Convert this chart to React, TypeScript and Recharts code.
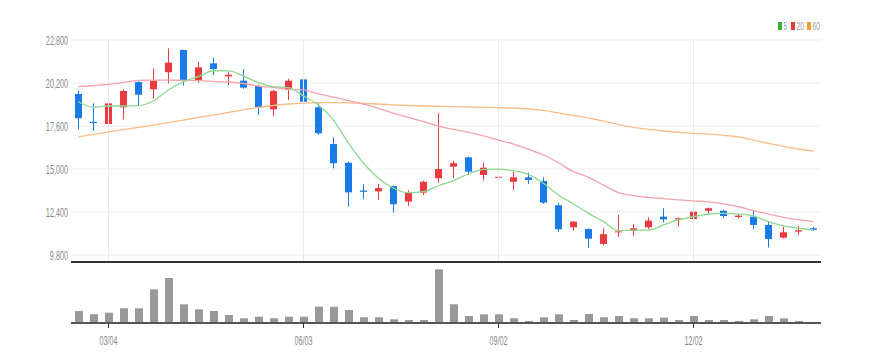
import React from 'react';
import { ComposedChart, Bar, Line, XAxis, YAxis, CartesianGrid, ReferenceLine } from 'recharts';

const dates = [
  '02/19', '02/26', '03/04', '03/11', '03/18', '03/25', '04/01', '04/08', '04/15', '04/22',
  '04/29', '05/06', '05/13', '05/20', '05/27', '06/03', '06/10', '06/17', '06/24', '07/01',
  '07/08', '07/15', '07/22', '07/29', '08/05', '08/12', '08/19', '08/26', '09/02', '09/09',
  '09/16', '09/23', '09/30', '10/07', '10/14', '10/21', '10/28', '11/04', '11/11', '11/18',
  '11/25', '12/02', '12/09', '12/16', '12/23', '12/30', '01/06', '01/13', '01/20', '01/27',
];

const opens = [
  19540, 17850, 17720, 18730, 20260, 19820, 20850, 22200, 20380, 21390,
  20600, 20340, 20020, 18610, 19780, 20420, 18730, 16510, 15380, 13700,
  13650, 13970, 13030, 13570, 14440, 15140, 15710, 14640, 14480, 14230,
  14500, 14280, 12810, 11480, 11380, 10470, 11170, 11270, 11480, 12120,
  11950, 11980, 12480, 12480, 12100, 12120, 11620, 10850, 11220, 11420,
];
const highs = [
  19740, 18970, 19480, 19820, 20300, 21070, 22300, 22220, 21490, 21730,
  20880, 21030, 20100, 19780, 20460, 20480, 18970, 16920, 15450, 14080,
  14100, 14000, 13700, 14300, 18370, 15500, 15750, 15380, 15690, 14840,
  14780, 14500, 12970, 11850, 11400, 11420, 12220, 11680, 12080, 12630,
  12080, 12890, 12680, 12540, 12250, 12520, 11820, 11510, 11560, 11500,
];
const lows = [
  17400, 17300, 17160, 18000, 18810, 19250, 20180, 20040, 20220, 20680,
  20080, 19850, 18270, 18200, 19170, 18730, 17060, 15040, 12720, 13170,
  13130, 12360, 12770, 13430, 14170, 14440, 14640, 14300, 14420, 13730,
  14100, 12900, 11210, 11270, 10250, 10390, 10910, 10950, 11360, 11760,
  11510, 11720, 12220, 12020, 12000, 11360, 10250, 10800, 11010, 11250,
];
const closes = [
  18070, 17780, 18970, 19720, 19490, 20340, 21430, 20340, 21150, 21050,
  20700, 19920, 18710, 19720, 20340, 19070, 17160, 15350, 13590, 13620,
  13850, 12870, 13570, 14230, 15000, 15350, 14840, 15080, 14530, 14500,
  14340, 12970, 11360, 11820, 10790, 11060, 11230, 11420, 11880, 11960,
  12020, 12420, 12630, 12160, 12180, 11620, 10770, 11180, 11300, 11330,
];

const ma5 = [
  19070, 18730, 18810, 18810, 18830, 19130, 19780, 20280, 20580, 20940,
  20930, 20620, 20220, 19980, 19920, 19420, 18870, 17960, 16560, 15350,
  14440, 13840, 13570, 13630, 13990, 14300, 14700, 14980, 15000, 14900,
  14680, 14140, 13430, 12890, 12320, 11820, 11270, 11310, 11310, 11620,
  11920, 12120, 12280, 12320, 12280, 12160, 11820, 11560, 11420, 11310,
];
const ma20 = [
  19980, 20050, 20120, 20240, 20360, 20380, 20380, 20360, 20340, 20300,
  20260, 20170, 20020, 19930, 19820, 19780, 19540, 19340, 19130, 18930,
  18670, 18370, 18130, 17860, 17600, 17400, 17220, 17000, 16750, 16510,
  16190, 15850, 15380, 14840, 14500, 14030, 13570, 13390, 13290, 13210,
  13130, 13070, 13010, 12890, 12720, 12480, 12280, 12080, 11940, 11820,
];
const ma60 = [
  16950, 17090, 17240, 17380, 17520, 17660, 17810, 17960, 18120, 18270,
  18420, 18580, 18730, 18840, 18930, 18990, 19010, 19010, 19000, 18970,
  18930, 18880, 18840, 18810, 18790, 18770, 18750, 18730, 18710, 18690,
  18630, 18540, 18390, 18240, 18080, 17900, 17690, 17520, 17400, 17300,
  17220, 17160, 17110, 17040, 16940, 16750, 16550, 16370, 16210, 16090,
];

const volumes = [
  120000, 87000, 103000, 147000, 147000, 337000, 450000, 187000, 137000, 120000,
  80000, 47000, 63000, 47000, 63000, 63000, 163000, 163000, 130000, 57000,
  57000, 37000, 30000, 30000, 537000, 187000, 70000, 87000, 87000, 47000,
  20000, 57000, 87000, 30000, 90000, 57000, 70000, 47000, 47000, 53000,
  30000, 70000, 30000, 30000, 20000, 37000, 70000, 47000, 20000, 10000,
];

const priceTicks = [9800, 12400, 15000, 17600, 20200, 22800];
const dateTicks = ['03/04', '06/03', '09/02', '12/02'];
const legendItems = [
  { label: '5', color: '#2fb52f' },
  { label: '20', color: '#e8363e' },
  { label: '60', color: '#f39a2e' },
];

const data = dates.map((d, i) => ({
  date: d,
  open: opens[i],
  high: highs[i],
  low: lows[i],
  close: closes[i],
  range: [lows[i], highs[i]],
  ma5: ma5[i],
  ma20: ma20[i],
  ma60: ma60[i],
  volume: volumes[i],
}));

const UP = '#ea3a40';
const DOWN = '#1b7be6';
const FONT = "'Liberation Sans', Arial, sans-serif";

const Candle = (props: any) => {
  const { x, y, width, height, payload } = props;
  if (x == null || y == null || !payload) return null;
  const top = Math.min(y, y + height);
  const h = Math.abs(height);
  const { open, close, high, low } = payload;
  const span = high - low || 1;
  const ppu = h / span;
  const yo = top + (high - open) * ppu;
  const yc = top + (high - close) * ppu;
  const color = close >= open ? UP : DOWN;
  const bt = Math.min(yo, yc);
  const bh = Math.max(Math.abs(yo - yc), 1);
  const cx = x + width / 2;
  return (
    <g>
      <line x1={cx} x2={cx} y1={top} y2={top + h} stroke={color} strokeWidth={1} />
      <rect x={x} y={bt} width={width} height={bh} fill={color} />
    </g>
  );
};

const YTick = (props: any) => {
  const { x, y, payload } = props;
  return (
    <text
      transform={`translate(${x},${y + 4.5}) scale(0.58,1)`}
      textAnchor="end"
      fill="#888"
      fontSize={12.5}
      fontFamily={FONT}
    >
      {Number(payload.value).toLocaleString('en-US')}
    </text>
  );
};

const XTick = (props: any) => {
  const { x, y, payload } = props;
  return (
    <text
      transform={`translate(${x},${y + 15}) scale(0.55,1)`}
      textAnchor="middle"
      fill="#888"
      fontSize={13}
      fontFamily={FONT}
    >
      {payload.value}
    </text>
  );
};

export default function App() {
  return (
    <div style={{ position: 'absolute', left: 0, top: 0, width: 869, height: 364, background: '#fff' }}>
      <div style={{ position: 'absolute', left: 0, top: 0 }}>
        <ComposedChart width={869} height={270} data={data} margin={{ top: 40, right: 48, bottom: 0, left: 8 }}>
          <CartesianGrid vertical={false} stroke="#ececec" />
          {dateTicks.map((t) => (
            <ReferenceLine key={t} x={t} stroke="#ececec" />
          ))}
          <XAxis
            dataKey="date"
            height={8}
            tick={false}
            tickLine={false}
            axisLine={{ stroke: '#333', strokeWidth: 2 }}
          />
          <YAxis
            domain={[9380, 22800]}
            ticks={priceTicks}
            width={63}
            tickSize={0}
            tickMargin={3}
            axisLine={false}
            tickLine={false}
            tick={<YTick />}
            allowDataOverflow
          />
          <Line dataKey="ma60" type="monotone" stroke="#f7bd87" strokeWidth={1.3} dot={false} isAnimationActive={false} />
          <Line dataKey="ma20" type="monotone" stroke="#f5a2aa" strokeWidth={1.3} dot={false} isAnimationActive={false} />
          <Line dataKey="ma5" type="monotone" stroke="#8fd88f" strokeWidth={1.3} dot={false} isAnimationActive={false} />
          <Bar dataKey="range" barSize={7} shape={Candle} isAnimationActive={false} />
        </ComposedChart>
      </div>
      <div style={{ position: 'absolute', left: 0, top: 262 }}>
        <ComposedChart width={869} height={102} data={data} margin={{ top: 3, right: 48, bottom: 13, left: 71 }}>
          <XAxis
            dataKey="date"
            ticks={dateTicks}
            interval={0}
            height={28}
            tickSize={5}
            tickMargin={2}
            tickLine={{ stroke: '#333' }}
            axisLine={{ stroke: '#555', strokeWidth: 2 }}
            tick={<XTick />}
          />
          <YAxis hide domain={[0, 580000]} />
          <Bar dataKey="volume" fill="#999" barSize={8} isAnimationActive={false} />
        </ComposedChart>
      </div>
      <svg style={{ position: 'absolute', left: 0, top: 0 }} width={869} height={40}>
        {legendItems.map((it, i) => {
          const xs = [778, 791, 807][i];
          return (
            <g key={it.label}>
              <rect x={xs} y={22} width={4} height={8} fill={it.color} />
              <text
                transform={`translate(${xs + 5.5},${30}) scale(0.58,1)`}
                fill="#999"
                fontSize={11.5}
                fontFamily={FONT}
              >
                {it.label}
              </text>
            </g>
          );
        })}
      </svg>
    </div>
  );
}
